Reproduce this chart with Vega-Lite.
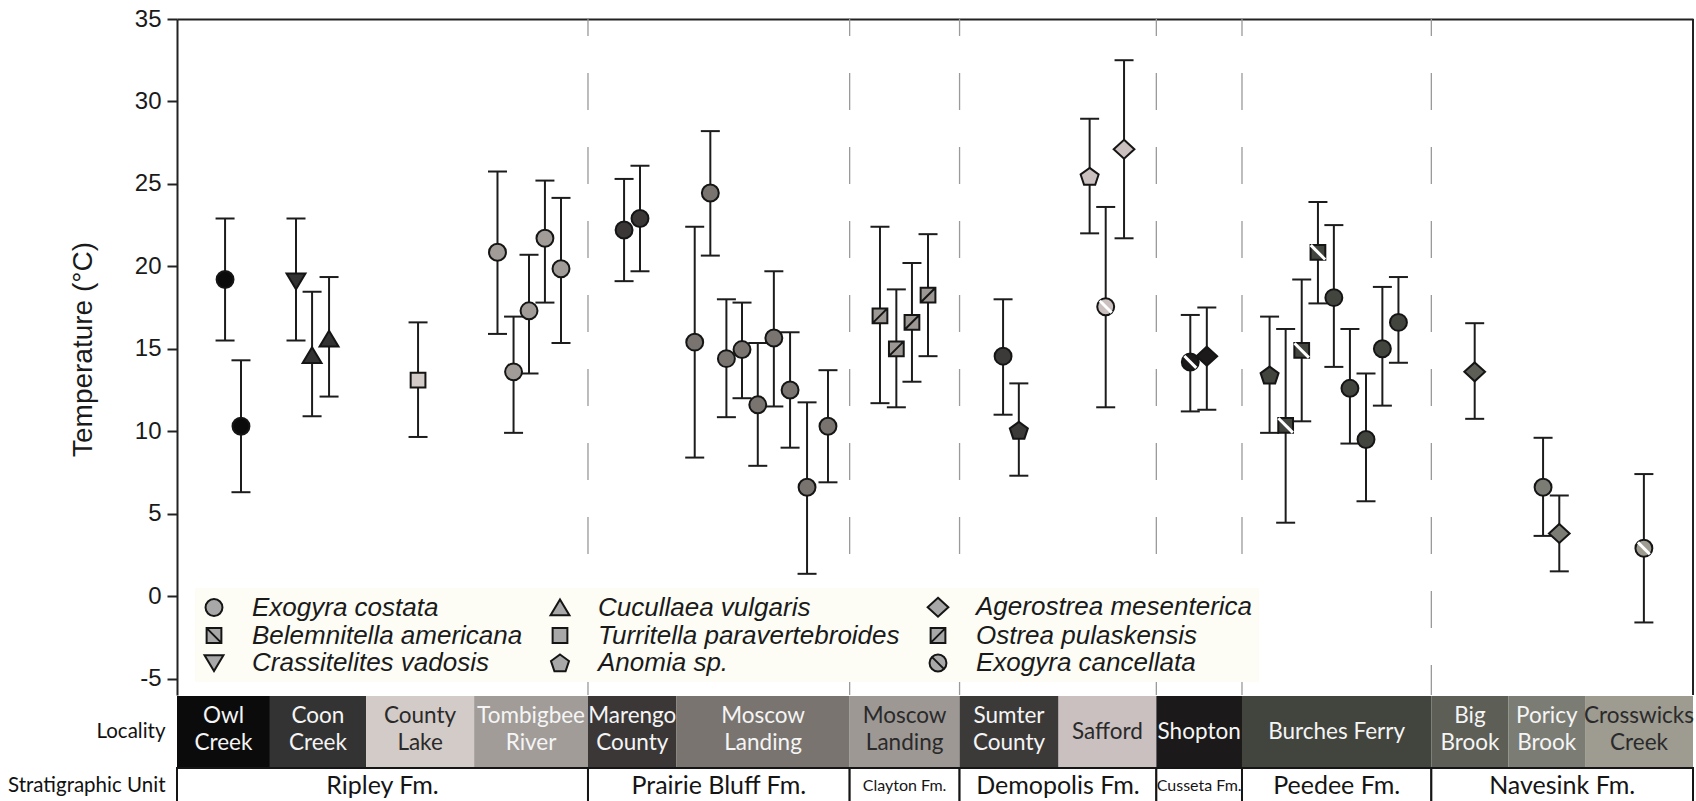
{
  "$schema": "https://vega.github.io/schema/vega-lite/v6.json",
  "background": "white",
  "padding": {"left": 7, "top": 7, "right": 0, "bottom": 0},
  "spacing": 0,
  "config": {"view": {"stroke": null}, "font": "Liberation Sans", "axis": {"grid": false}},
  "datasets": {
    "points": [
      {"site": "Owl Creek", "species": "Exogyra costata", "pos": 3.17, "t": 19.2, "lo": 15.5, "hi": 22.9},
      {"site": "Owl Creek", "species": "Exogyra costata", "pos": 4.22, "t": 10.3, "lo": 6.3, "hi": 14.3},
      {"site": "Coon Creek", "species": "Crassitelites vadosis", "pos": 7.85, "t": 19.1, "lo": 15.5, "hi": 22.9},
      {"site": "Coon Creek", "species": "Cucullaea vulgaris", "pos": 8.91, "t": 14.6, "lo": 10.9, "hi": 18.45},
      {"site": "Coon Creek", "species": "Cucullaea vulgaris", "pos": 10.03, "t": 15.6, "lo": 12.1, "hi": 19.35},
      {"site": "County Lake", "species": "Turritella paravertebroides", "pos": 15.9, "t": 13.1, "lo": 9.65, "hi": 16.6},
      {"site": "Tombigbee River", "species": "Exogyra costata", "pos": 21.14, "t": 20.85, "lo": 15.9, "hi": 25.75},
      {"site": "Tombigbee River", "species": "Exogyra costata", "pos": 22.2, "t": 13.6, "lo": 9.9, "hi": 16.95},
      {"site": "Tombigbee River", "species": "Exogyra costata", "pos": 23.22, "t": 17.3, "lo": 13.5, "hi": 20.7},
      {"site": "Tombigbee River", "species": "Exogyra costata", "pos": 24.27, "t": 21.7, "lo": 17.8, "hi": 25.2},
      {"site": "Tombigbee River", "species": "Exogyra costata", "pos": 25.33, "t": 19.85, "lo": 15.35, "hi": 24.15},
      {"site": "Marengo County", "species": "Exogyra costata", "pos": 29.49, "t": 22.2, "lo": 19.1, "hi": 25.3},
      {"site": "Marengo County", "species": "Exogyra costata", "pos": 30.54, "t": 22.9, "lo": 19.7, "hi": 26.1},
      {"site": "Moscow Landing (PB)", "species": "Exogyra costata", "pos": 34.15, "t": 15.4, "lo": 8.4, "hi": 22.4},
      {"site": "Moscow Landing (PB)", "species": "Exogyra costata", "pos": 35.18, "t": 24.45, "lo": 20.65, "hi": 28.2},
      {"site": "Moscow Landing (PB)", "species": "Exogyra costata", "pos": 36.24, "t": 14.4, "lo": 10.85, "hi": 18.0},
      {"site": "Moscow Landing (PB)", "species": "Exogyra costata", "pos": 37.27, "t": 14.95, "lo": 12.0, "hi": 17.8},
      {"site": "Moscow Landing (PB)", "species": "Exogyra costata", "pos": 38.31, "t": 11.6, "lo": 7.9, "hi": 15.35},
      {"site": "Moscow Landing (PB)", "species": "Exogyra costata", "pos": 39.37, "t": 15.65, "lo": 11.5, "hi": 19.7},
      {"site": "Moscow Landing (PB)", "species": "Exogyra costata", "pos": 40.44, "t": 12.5, "lo": 9.0, "hi": 16.0},
      {"site": "Moscow Landing (PB)", "species": "Exogyra costata", "pos": 41.56, "t": 6.6, "lo": 1.35, "hi": 11.75},
      {"site": "Moscow Landing (PB)", "species": "Exogyra costata", "pos": 42.94, "t": 10.3, "lo": 6.9, "hi": 13.7},
      {"site": "Moscow Landing (Clayton)", "species": "Ostrea pulaskensis", "pos": 46.37, "t": 17.0, "lo": 11.7, "hi": 22.4},
      {"site": "Moscow Landing (Clayton)", "species": "Ostrea pulaskensis", "pos": 47.45, "t": 15.0, "lo": 11.45, "hi": 18.6},
      {"site": "Moscow Landing (Clayton)", "species": "Ostrea pulaskensis", "pos": 48.48, "t": 16.6, "lo": 13.0, "hi": 20.2},
      {"site": "Moscow Landing (Clayton)", "species": "Ostrea pulaskensis", "pos": 49.54, "t": 18.25, "lo": 14.55, "hi": 21.95},
      {"site": "Sumter County", "species": "Exogyra costata", "pos": 54.49, "t": 14.55, "lo": 11.0, "hi": 18.0},
      {"site": "Sumter County", "species": "Anomia sp.", "pos": 55.53, "t": 10.05, "lo": 7.3, "hi": 12.9},
      {"site": "Safford", "species": "Anomia sp.", "pos": 60.2, "t": 25.45, "lo": 22.0, "hi": 28.95},
      {"site": "Safford", "species": "Exogyra cancellata", "pos": 61.26, "t": 17.55, "lo": 11.45, "hi": 23.6},
      {"site": "Safford", "species": "Agerostrea mesenterica", "pos": 62.47, "t": 27.1, "lo": 21.7, "hi": 32.5},
      {"site": "Shopton", "species": "Exogyra cancellata", "pos": 66.84, "t": 14.2, "lo": 11.2, "hi": 17.05},
      {"site": "Shopton", "species": "Agerostrea mesenterica", "pos": 67.93, "t": 14.55, "lo": 11.3, "hi": 17.5},
      {"site": "Burches Ferry", "species": "Anomia sp.", "pos": 72.07, "t": 13.4, "lo": 9.9, "hi": 16.95},
      {"site": "Burches Ferry", "species": "Belemnitella americana", "pos": 73.13, "t": 10.35, "lo": 4.45, "hi": 16.2},
      {"site": "Burches Ferry", "species": "Belemnitella americana", "pos": 74.19, "t": 14.9, "lo": 10.6, "hi": 19.2},
      {"site": "Burches Ferry", "species": "Belemnitella americana", "pos": 75.26, "t": 20.85, "lo": 17.75, "hi": 23.9},
      {"site": "Burches Ferry", "species": "Exogyra costata", "pos": 76.31, "t": 18.1, "lo": 13.9, "hi": 22.5},
      {"site": "Burches Ferry", "species": "Exogyra costata", "pos": 77.37, "t": 12.6, "lo": 9.25, "hi": 16.2},
      {"site": "Burches Ferry", "species": "Exogyra costata", "pos": 78.43, "t": 9.5, "lo": 5.75, "hi": 13.5},
      {"site": "Burches Ferry", "species": "Exogyra costata", "pos": 79.51, "t": 15.0, "lo": 11.55, "hi": 18.75},
      {"site": "Burches Ferry", "species": "Exogyra costata", "pos": 80.57, "t": 16.6, "lo": 14.15, "hi": 19.35},
      {"site": "Big Brook", "species": "Agerostrea mesenterica", "pos": 85.6, "t": 13.6, "lo": 10.75, "hi": 16.55},
      {"site": "Poricy Brook", "species": "Exogyra costata", "pos": 90.11, "t": 6.6, "lo": 3.65, "hi": 9.6},
      {"site": "Poricy Brook", "species": "Agerostrea mesenterica", "pos": 91.18, "t": 3.8, "lo": 1.5, "hi": 6.1},
      {"site": "Crosswicks Creek", "species": "Exogyra cancellata", "pos": 96.76, "t": 2.9, "lo": -1.6, "hi": 7.4}
    ],
    "sites": [
      {"site": "Owl Creek", "label": "Owl\nCreek", "start": 0, "end": 6.13},
      {"site": "Coon Creek", "label": "Coon\nCreek", "start": 6.13, "end": 12.47},
      {"site": "County Lake", "label": "County\nLake", "start": 12.47, "end": 19.6},
      {"site": "Tombigbee River", "label": "Tombigbee\nRiver", "start": 19.6, "end": 27.11},
      {"site": "Marengo County", "label": "Marengo\nCounty", "start": 27.11, "end": 32.95},
      {"site": "Moscow Landing (PB)", "label": "Moscow\nLanding", "start": 32.95, "end": 44.37},
      {"site": "Moscow Landing (Clayton)", "label": "Moscow\nLanding", "start": 44.37, "end": 51.62},
      {"site": "Sumter County", "label": "Sumter\nCounty", "start": 51.62, "end": 58.15},
      {"site": "Safford", "label": "Safford", "start": 58.15, "end": 64.6},
      {"site": "Shopton", "label": "Shopton", "start": 64.6, "end": 70.25},
      {"site": "Burches Ferry", "label": "Burches Ferry", "start": 70.25, "end": 82.74},
      {"site": "Big Brook", "label": "Big\nBrook", "start": 82.74, "end": 87.83},
      {"site": "Poricy Brook", "label": "Poricy\nBrook", "start": 87.83, "end": 92.88},
      {"site": "Crosswicks Creek", "label": "Crosswicks\nCreek", "start": 92.88, "end": 100}
    ],
    "formations": [
      {"formation": "Ripley Fm.", "start": 0, "end": 27.11},
      {"formation": "Prairie Bluff Fm.", "start": 27.11, "end": 44.37},
      {"formation": "Clayton Fm.", "start": 44.37, "end": 51.62},
      {"formation": "Demopolis Fm.", "start": 51.62, "end": 64.6},
      {"formation": "Cusseta Fm.", "start": 64.6, "end": 70.25},
      {"formation": "Peedee Fm.", "start": 70.25, "end": 82.74},
      {"formation": "Navesink Fm.", "start": 82.74, "end": 100}
    ]
  },
  "resolve": {"scale": {"x": "independent", "y": "independent", "fill": "independent"}},
  "vconcat": [
    {
      "width": 1516,
      "height": 676,
      "layer": [
        {
          "data": {"name": "formations"},
          "transform": [{"filter": "datum.start > 0"}],
          "mark": {"type": "rule", "color": "#9a9a9a", "strokeWidth": 1.3, "strokeDash": [37, 37], "strokeDashOffset": 20},
          "encoding": {
            "x": {"field": "start", "type": "quantitative", "scale": {"domain": [0, 100], "nice": false, "zero": false},
                  "axis": {"orient": "top", "labels": false, "ticks": false, "title": null, "domain": true, "domainColor": "#222", "domainWidth": 2}},
            "y": {"datum": 35, "type": "quantitative", "title": "Temperature (°C)"},
            "y2": {"datum": -6}
          }
        },
        {
          "data": {"values": [{}]},
          "mark": {"type": "rule", "color": "#222", "strokeWidth": 2},
          "encoding": {
            "x": {"datum": 100, "type": "quantitative"},
            "y": {"datum": 35, "type": "quantitative", "title": "Temperature (°C)"},
            "y2": {"datum": -6}
          }
        },
        {
          "data": {"name": "points"},
          "mark": {"type": "rule", "color": "#1c1c1c", "strokeWidth": 2},
          "encoding": {
            "x": {"field": "pos", "type": "quantitative"},
            "y": {"field": "lo", "type": "quantitative", "title": "Temperature (°C)"},
            "y2": {"field": "hi"}
          }
        },
        {
          "data": {"name": "points"},
          "mark": {"type": "tick", "orient": "horizontal", "size": 19, "thickness": 2, "color": "#1c1c1c", "opacity": 1},
          "encoding": {
            "x": {"field": "pos", "type": "quantitative"},
            "y": {"field": "lo", "type": "quantitative", "title": "Temperature (°C)"}
          }
        },
        {
          "data": {"name": "points"},
          "mark": {"type": "tick", "orient": "horizontal", "size": 19, "thickness": 2, "color": "#1c1c1c", "opacity": 1},
          "encoding": {
            "x": {"field": "pos", "type": "quantitative"},
            "y": {"field": "hi", "type": "quantitative", "title": "Temperature (°C)"}
          }
        },
        {
          "data": {"name": "points"},
          "mark": {"type": "point", "filled": true, "size": 324, "stroke": "#151515", "strokeWidth": 2, "opacity": 1},
          "encoding": {
            "x": {"field": "pos", "type": "quantitative"},
            "y": {"field": "t", "type": "quantitative", "title": "Temperature (°C)",
                  "scale": {"domain": [-6, 35], "nice": false, "zero": false},
                  "axis": {"values": [-5, 0, 5, 10, 15, 20, 25, 30, 35], "labelExpr": "'' + datum.value", "tickSize": 10, "tickWidth": 2, "tickColor": "#222",
                           "domainColor": "#222", "domainWidth": 2, "labelFont": "Liberation Sans", "labelFontSize": 24,
                           "labelColor": "#1a1a1a", "labelPadding": 6, "titleFont": "Liberation Sans", "titleFontSize": 28,
                           "titleFontWeight": "normal", "titleColor": "#1a1a1a", "titlePadding": 37, "titleY": 330}},
            "fill": {"field": "site", "type": "nominal", "legend": null,
                     "scale": {"domain": ["Owl Creek", "Coon Creek", "County Lake", "Tombigbee River", "Marengo County", "Moscow Landing (PB)", "Moscow Landing (Clayton)", "Sumter County", "Safford", "Shopton", "Burches Ferry", "Big Brook", "Poricy Brook", "Crosswicks Creek"],
                               "range": ["#0b0b0b", "#333333", "#d3cbc7", "#a19c98", "#3b3737", "#79746f", "#9d9894", "#3c3939", "#c9c0bf", "#1b1919", "#42443e", "#5d5e56", "#7b7c74", "#9e9b91"]}},
            "shape": {"field": "species", "type": "nominal",
                      "scale": {"domain": ["Exogyra costata", "Belemnitella americana", "Crassitelites vadosis", "Cucullaea vulgaris", "Turritella paravertebroides", "Anomia sp.", "Agerostrea mesenterica", "Ostrea pulaskensis", "Exogyra cancellata"],
                                "range": ["M-0.94,0A0.94,0.94,0,1,1,0.94,0A0.94,0.94,0,1,1,-0.94,0Z",
                                          "M-0.82,-0.82L0.82,-0.82L0.82,0.82L-0.82,0.82ZM-0.82,-0.82L0.82,0.82",
                                          "M-1.05,-0.85L1.05,-0.85L0,0.9Z",
                                          "M0,-0.9L1.05,0.85L-1.05,0.85Z",
                                          "M-0.82,-0.82L0.82,-0.82L0.82,0.82L-0.82,0.82Z",
                                          "M0,-0.95L1,-0.22L0.62,0.92L-0.62,0.92L-1,-0.22Z",
                                          "M0,-1.05L1.15,0L0,1.05L-1.15,0Z",
                                          "M-0.82,-0.82L0.82,-0.82L0.82,0.82L-0.82,0.82ZM-0.82,0.82L0.82,-0.82",
                                          "M-0.94,0A0.94,0.94,0,1,1,0.94,0A0.94,0.94,0,1,1,-0.94,0ZM-0.68,-0.68L0.68,0.68"]},
                      "legend": {"orient": "none", "legendX": 18, "legendY": 569, "columns": 3, "title": null, "padding": 6,
                                 "fillColor": "#fdfdf5", "labelFont": "Liberation Sans", "labelFontStyle": "italic", "labelFontSize": 26,
                                 "labelColor": "#1a1a1a", "labelOffset": 25, "labelLimit": 500, "symbolSize": 324, "rowPadding": 1.5,
                                 "columnPadding": 23, "labelBaseline": "middle",
                                 "symbolFillColor": "#a8a8a8", "symbolStrokeColor": "#151515", "symbolStrokeWidth": 2, "symbolOpacity": 1}}
          }
        },
        {
          "data": {"name": "points"},
          "transform": [{"filter": {"field": "species", "oneOf": ["Belemnitella americana", "Exogyra cancellata"]}}],
          "mark": {"type": "point", "filled": false, "size": 324, "stroke": "#ffffff", "strokeWidth": 3, "opacity": 1},
          "encoding": {
            "x": {"field": "pos", "type": "quantitative"},
            "y": {"field": "t", "type": "quantitative", "title": "Temperature (°C)"},
            "shape": {"field": "species", "type": "nominal", "legend": null,
                      "scale": {"domain": ["Belemnitella americana", "Exogyra cancellata"],
                                "range": ["M-0.8,-0.8L0.8,0.8", "M-0.66,-0.66L0.66,0.66"]}}
          }
        }
      ],
      "resolve": {"scale": {"shape": "independent"}, "legend": {"shape": "independent"}}
    },
    {
      "width": 1516,
      "height": 71,
      "data": {"name": "sites"},
      "layer": [
        {
          "mark": {"type": "rect", "strokeWidth": 0},
          "encoding": {
            "x": {"field": "start", "type": "quantitative", "scale": {"domain": [0, 100], "nice": false, "zero": false}, "axis": null},
            "x2": {"field": "end"},
            "y": {"datum": "Locality", "type": "nominal", "scale": {"paddingInner": 0, "paddingOuter": 0},
                  "axis": {"title": null, "ticks": false, "domain": false, "labelFont": "Lato", "labelFontSize": 20.5, "labelColor": "#111", "labelPadding": 12, "labelAngle": 0}},
            "fill": {"field": "site", "type": "nominal", "legend": null,
                     "scale": {"domain": ["Owl Creek", "Coon Creek", "County Lake", "Tombigbee River", "Marengo County", "Moscow Landing (PB)", "Moscow Landing (Clayton)", "Sumter County", "Safford", "Shopton", "Burches Ferry", "Big Brook", "Poricy Brook", "Crosswicks Creek"],
                               "range": ["#0b0b0b", "#333333", "#d3cbc7", "#a19c98", "#3b3737", "#79746f", "#9d9894", "#3c3939", "#c9c0bf", "#1b1919", "#42443e", "#5d5e56", "#7b7c74", "#9e9b91"]}}
          }
        },
        {
          "transform": [{"filter": "test(/\\n/, datum.label)"}, {"calculate": "(datum.start + datum.end) / 2", "as": "mid"}],
          "mark": {"type": "text", "font": "Lato", "fontSize": 22.5, "lineBreak": "\n", "lineHeight": 27, "baseline": "middle", "align": "center", "dy": -15.5},
          "encoding": {
            "x": {"field": "mid", "type": "quantitative"},
            "y": {"datum": "Locality", "type": "nominal"},
            "text": {"field": "label"},
            "color": {"condition": {"test": "indexof(['County Lake','Moscow Landing (Clayton)','Safford','Crosswicks Creek'], datum.site) >= 0", "value": "#2a2a2a"}, "value": "#f5f5f5"}
          }
        },
        {
          "transform": [{"filter": "!test(/\\n/, datum.label)"}, {"calculate": "(datum.start + datum.end) / 2", "as": "mid"}],
          "mark": {"type": "text", "font": "Lato", "fontSize": 22.5, "baseline": "middle", "align": "center"},
          "encoding": {
            "x": {"field": "mid", "type": "quantitative"},
            "y": {"datum": "Locality", "type": "nominal"},
            "text": {"field": "label"},
            "color": {"condition": {"test": "indexof(['County Lake','Moscow Landing (Clayton)','Safford','Crosswicks Creek'], datum.site) >= 0", "value": "#2a2a2a"}, "value": "#f5f5f5"}
          }
        }
      ]
    },
    {
      "width": 1516,
      "height": 35,
      "data": {"name": "formations"},
      "layer": [
        {
          "mark": {"type": "rect", "fill": "white", "stroke": "#151515", "strokeWidth": 2},
          "encoding": {
            "x": {"field": "start", "type": "quantitative", "scale": {"domain": [0, 100], "nice": false, "zero": false}, "axis": null},
            "x2": {"field": "end"},
            "y": {"datum": "Stratigraphic Unit", "type": "nominal", "scale": {"paddingInner": 0, "paddingOuter": 0},
                  "axis": {"title": null, "ticks": false, "domain": false, "labelFont": "Lato", "labelFontSize": 20.5, "labelColor": "#111", "labelPadding": 12, "labelAngle": 0, "labelLimit": 300}}
          }
        },
        {
          "transform": [{"calculate": "(datum.start + datum.end) / 2", "as": "mid"}],
          "mark": {"type": "text", "font": "Lato", "baseline": "middle", "align": "center", "color": "#151515"},
          "encoding": {
            "x": {"field": "mid", "type": "quantitative"},
            "y": {"datum": "Stratigraphic Unit", "type": "nominal"},
            "text": {"field": "formation"},
            "size": {"condition": {"test": "datum.formation === 'Clayton Fm.' || datum.formation === 'Cusseta Fm.'", "value": 16}, "value": 25}
          }
        }
      ]
    }
  ]
}
